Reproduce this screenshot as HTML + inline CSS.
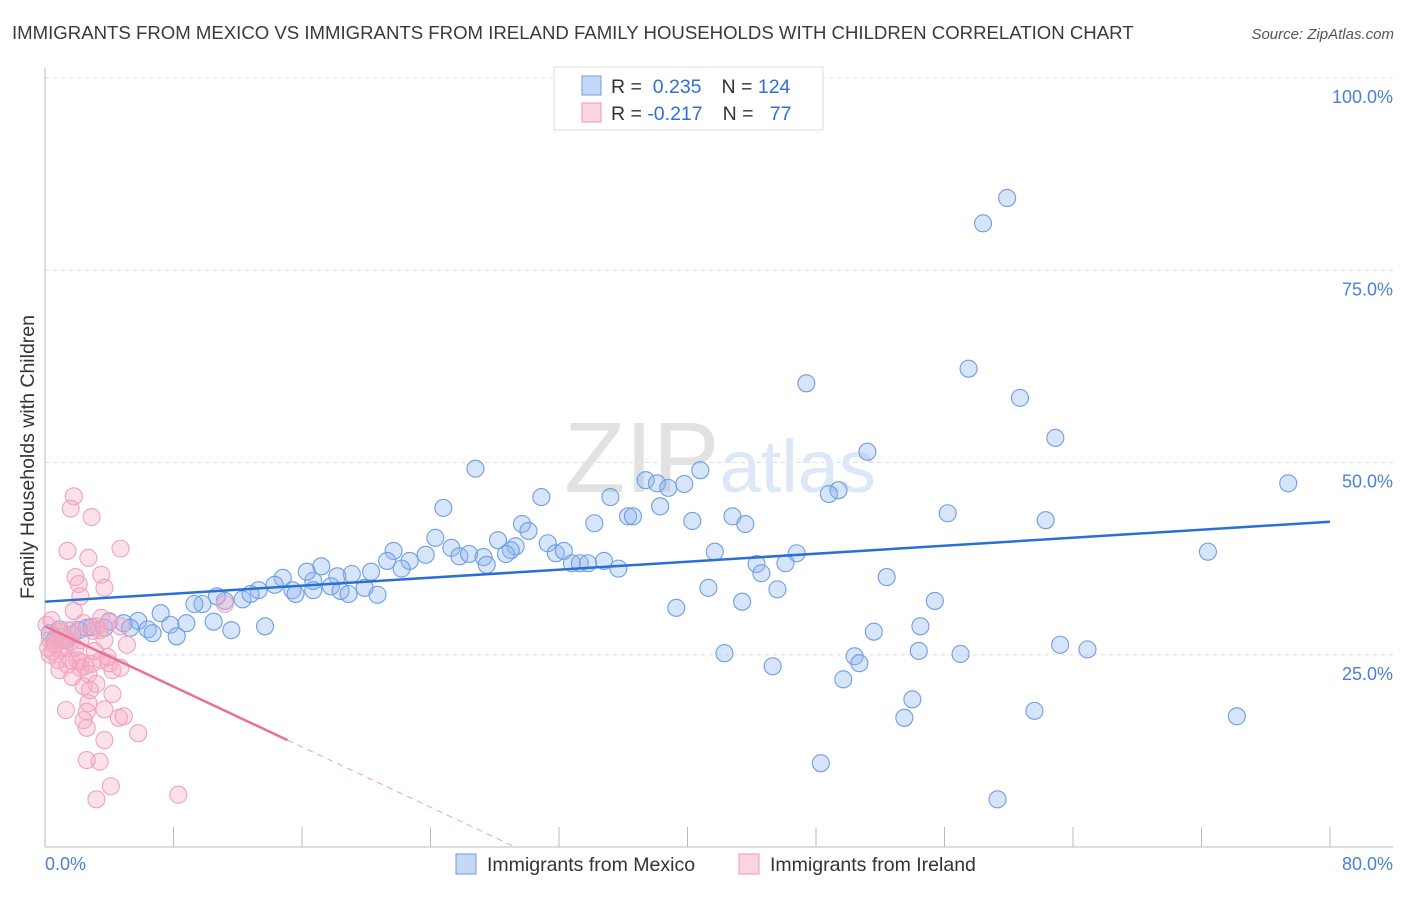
<!DOCTYPE html>
<html><head><meta charset="utf-8"><style>
body{margin:0;background:#fff;font-family:"Liberation Sans",sans-serif;}
svg text{font-family:"Liberation Sans",sans-serif;}
</style></head><body>
<svg id="c" width="1406" height="892" xmlns="http://www.w3.org/2000/svg">
<text x="12" y="39" font-size="18.6" fill="#3a3a3a">IMMIGRANTS FROM MEXICO VS IMMIGRANTS FROM IRELAND FAMILY HOUSEHOLDS WITH CHILDREN CORRELATION CHART</text>
<text x="1394" y="39" font-size="15" fill="#555" text-anchor="end" font-style="italic">Source: ZipAtlas.com</text>
<text transform="translate(34,457) rotate(-90)" font-size="19.5" fill="#333" text-anchor="middle">Family Households with Children</text>
<g id="grid"></g>
<text x="720" y="492" font-size="100" fill="#ebebeb" text-anchor="middle" font-family="Liberation Serif"><tspan fill="#e2e2e2">ZIP</tspan><tspan fill="#dce8f7" font-family="Liberation Sans" font-size="74">atlas</tspan></text>
<g id="pts"></g>
<g id="lines"></g>
<g>
<rect x="554" y="67" width="269" height="63" fill="#fff" stroke="#ddd"/>
<rect x="582" y="76" width="19" height="19" fill="rgba(110,160,235,0.4)" stroke="#6b9be0"/>
<rect x="582" y="103" width="19" height="19" fill="rgba(245,150,180,0.4)" stroke="#ec9ab5"/>
<text x="611" y="93" font-size="19.5" fill="#333">R = <tspan fill="#2f6fd6">&#160;0.235</tspan><tspan dx="20">N = </tspan><tspan fill="#2f6fd6">124</tspan></text>
<text x="611" y="120" font-size="19.5" fill="#333">R = <tspan fill="#2f6fd6">-0.217</tspan><tspan dx="20">N = </tspan><tspan fill="#2f6fd6">&#160;&#160;77</tspan></text>
</g>
<g>
<rect x="456" y="854" width="20" height="20" fill="rgba(110,160,235,0.4)" stroke="#6b9be0"/>
<text x="487" y="871" font-size="19.5" fill="#333">Immigrants from Mexico</text>
<rect x="739" y="854" width="20" height="20" fill="rgba(245,150,180,0.4)" stroke="#ec9ab5"/>
<text x="770" y="871" font-size="19.5" fill="#333">Immigrants from Ireland</text>
</g>
</svg>
<script>
const mexX=[59.9,58.4,47.4,57.5,60.7,62.9,51.2,26.8,77.4,37.4,38.1,39.8,40.8,38.8,35.2,30.9,24.8,49.4,48.8,38.3,36.3,36.6,42.8,43.6,40.3,34.2,56.2,62.3,29.7,30.1,28.2,24.3,31.3,25.3,29.3,31.8,32.3,72.4,41.7,46.8,25.8,26.4,27.3,29.0,23.7,28.7,27.5,32.8,33.3,34.8,33.8,35.7,44.3,46.1,21.7,21.3,22.7,22.2,20.3,19.1,17.2,18.2,16.7,16.3,44.6,52.4,41.3,45.6,15.4,14.8,14.3,15.6,16.7,17.8,18.4,18.9,19.9,20.7,13.3,12.3,11.2,10.7,12.8,9.8,9.3,43.4,39.3,55.4,7.2,10.5,54.5,51.6,7.8,8.8,5.8,4.9,4.0,3.7,5.3,6.4,6.7,8.2,11.6,13.7,2.6,2.9,63.2,64.9,42.3,54.4,57.0,50.4,50.7,45.3,49.7,54.0,53.5,61.6,74.2,48.3,59.3,0.3,0.9,1.7,1.3,2.1,0.6];
const mexY=[84.4,81.1,60.3,62.2,58.4,53.2,51.4,49.2,47.3,47.7,47.3,47.2,49.0,46.7,45.5,45.5,44.1,46.4,45.9,44.3,43.0,43.0,43.0,42.0,42.4,42.1,43.4,42.5,42.0,41.1,39.9,40.2,39.5,38.9,39.1,38.2,38.5,38.4,38.4,38.2,37.8,38.1,37.7,38.6,38.0,38.1,36.7,36.9,36.9,37.2,36.9,36.2,36.8,36.9,38.5,37.2,37.2,36.2,35.8,35.5,36.5,35.2,34.6,35.8,35.6,35.1,33.7,33.5,33.4,35.0,34.1,32.9,33.4,33.9,33.3,32.9,33.7,32.8,33.4,32.2,32.0,32.6,32.9,31.6,31.6,31.9,31.1,32.0,30.4,29.3,28.7,28.0,28.9,29.1,29.4,29.1,29.3,28.5,28.5,28.3,27.8,27.4,28.2,28.7,28.5,28.6,26.3,25.7,25.2,25.5,25.1,24.8,23.9,23.5,21.8,19.2,16.8,17.7,17.0,10.9,6.2,27.8,28.3,27.6,26.9,28.2,26.9];
const ireX=[1.8,1.6,2.9,1.4,2.7,4.7,1.9,3.5,2.1,3.7,2.2,1.8,3.5,3.2,2.4,1.7,3.0,4.0,4.7,5.1,3.7,1.2,0.3,0.6,0.9,0.3,0.8,1.6,2.2,2.5,2.9,3.5,4.0,2.2,0.9,1.7,2.7,4.2,4.7,3.2,2.4,4.2,1.3,2.7,2.6,3.7,4.6,4.9,2.4,2.6,3.7,5.8,2.6,3.4,4.1,3.2,8.3,0.1,0.4,0.9,1.4,1.9,3.1,0.8,1.2,0.2,0.5,1.1,1.6,2.2,11.2,2.0,1.4,2.8,3.4,3.9];
const ireY=[45.6,44.0,42.9,38.5,37.6,38.8,35.1,35.4,34.2,33.7,32.6,30.7,29.8,28.7,29.1,28.2,28.1,29.4,28.7,26.3,26.9,26.9,26.9,26.3,25.6,25.0,24.3,24.3,24.1,23.5,23.8,24.3,23.9,23.3,23.0,22.1,22.5,23.0,23.3,21.2,20.9,19.9,17.8,18.7,17.6,17.9,16.8,17.0,16.5,15.5,13.9,14.8,11.3,11.1,7.9,6.2,6.8,28.9,29.5,28.0,28.2,25.9,25.5,26.9,25.9,25.9,25.4,27.3,26.7,26.9,31.6,24.3,23.7,20.4,28.2,24.7];
const yTicks=[25,50,75,100];
const xTicks=[0,8,16,24,32,40,48,56,64,72,80];
const mexLine=[31.9,42.3];
const ireLine=[28.7,13.9];
const ireSolidEnd=15.1;

const NS="http://www.w3.org/2000/svg";
const X0=45,X1=1330,Y0=847,Y100=78;
const sx=v=>X0+(X1-X0)*v/80;
const sy=v=>Y0-(Y0-Y100)*v/100;
function mk(tag,attrs,parent){const e=document.createElementNS(NS,tag);for(const k in attrs)e.setAttribute(k,attrs[k]);parent.appendChild(e);return e;}
const grid=document.getElementById('grid');
yTicks.forEach(t=>{
  const l=mk('line',{x1:X0,x2:1393,y1:sy(t),y2:sy(t),stroke:'#ddd','stroke-dasharray':'4,4'},grid);
  
  
  const tx=mk('text',{x:1393,y:sy(t)+25,'font-size':18,fill:'#4a80d8','text-anchor':'end'},grid);
  tx.textContent=t.toFixed(1)+'%';
  
  
});
const ax=mk('line',{x1:X0,x2:X0,y1:68,y2:Y0,stroke:'#bbb'},grid);


const bx=mk('line',{x1:X0,x2:1393,y1:Y0,y2:Y0,stroke:'#bbb'},grid);


xTicks.forEach(t=>{
  const l=mk('line',{x1:sx(t),x2:sx(t),y1:Y0-20,y2:Y0,stroke:'#bbb'},grid);
  
  
});
[[0,'start',X0],[80,'end',1393]].forEach(([t,a,x])=>{
  const tx=mk('text',{x:x,y:870,'font-size':18,fill:'#4a80d8','text-anchor':a},grid);
  tx.textContent=t.toFixed(1)+'%';
  
  
});
const pts=document.getElementById('pts');
mexX.forEach((v,i)=>{
  const c=mk('circle',{cx:sx(v),cy:sy(mexY[i]),r:8.5,fill:'rgba(140,180,240,0.35)',stroke:'#6f9de4','stroke-width':1.1},pts);
  
  
});
ireX.forEach((v,i)=>{
  const c=mk('circle',{cx:sx(v),cy:sy(ireY[i]),r:8.5,fill:'rgba(248,170,195,0.35)',stroke:'#eea3bc','stroke-width':1.1},pts);
  
  
});
const lines=document.getElementById('lines');
const ml=mk('line',{x1:sx(0),y1:sy(mexLine[0]),x2:sx(80),y2:sy(mexLine[1]),stroke:'#2a6fd6','stroke-width':2.5},lines);


const slope=(ireLine[1]-ireLine[0])/ireSolidEnd;
const il=mk('line',{x1:sx(0),y1:sy(ireLine[0]),x2:sx(ireSolidEnd),y2:sy(ireLine[1]),stroke:'#e8709a','stroke-width':2.5},lines);


const xEnd=-ireLine[0]/slope;
const id=mk('line',{x1:sx(ireSolidEnd),y1:sy(ireLine[1]),x2:sx(xEnd),y2:sy(0),stroke:'#eaa0b8','stroke-width':1,'stroke-dasharray':'6,5'},lines);


</script>
</body></html>
